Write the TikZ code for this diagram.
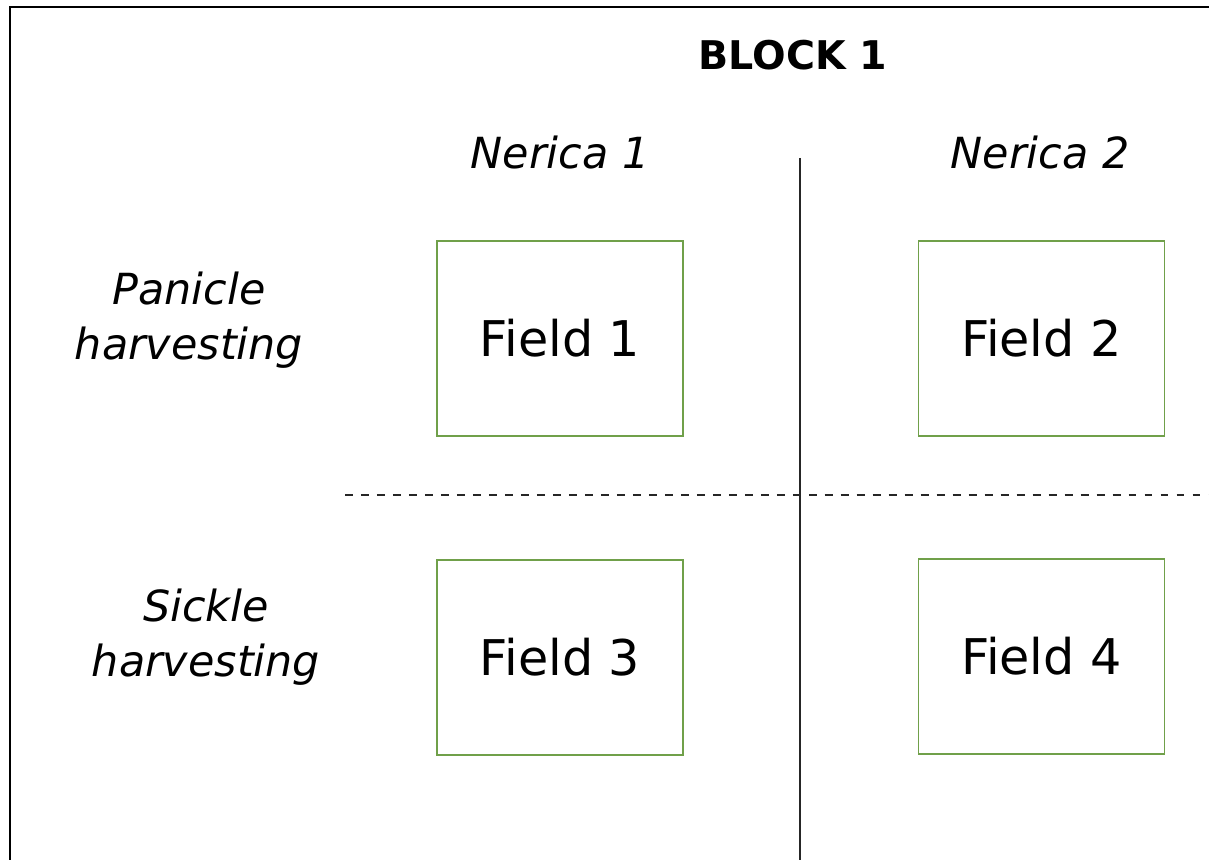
\documentclass[tikz,border=0pt]{standalone}
\usepackage{fontspec}
\setmainfont{DejaVu Sans}
\usetikzlibrary{positioning}
\definecolor{plotgreen}{RGB}{112,160,74}

\begin{document}
\begin{tikzpicture}[
  fieldbox/.style={draw=plotgreen, line width=1.1pt, rectangle, minimum width=4.92cm, minimum height=3.9cm, font=\fontsize{28}{33}\selectfont},
  variety/.style={font=\fontsize{24.4}{30}\selectfont\itshape},
  method/.style={align=center, font=\fontsize{24.4}{31.2}\selectfont\itshape},
  divider/.style={line width=1.3pt, black!85}
]
\useasboundingbox (0,0) rectangle (24.18,17.2);

% open frame, top and left side only
\draw[line width=1.6pt] (0.2,0) -- (0.2,17.06) -- (24.18,17.06);

\node[font=\fontsize{22.5}{27}\selectfont\bfseries] (block) at (15.86,16.1) {BLOCK 1};

\node[variety] (ner1) at (11.2,14.14) {Nerica 1};
\node[variety] (ner2) at (20.8,14.14) {Nerica 2};

\node[method] (panicle) at (3.78,10.8) {Panicle\\harvesting};
\node[method] (sickle) at (4.12,4.46) {Sickle\\harvesting};

\node[fieldbox] (f1) at (11.2,10.43) {Field 1};
\node[fieldbox] (f2) at (20.83,10.43) {Field 2};
\node[fieldbox] (f3) at (11.2,4.05) {Field 3};
\node[fieldbox] (f4) at (20.83,4.07) {Field 4};

% split between the two varieties and the two methods
\coordinate (vtop) at (16.0,14.04);
\coordinate (vbot) at (16.0,0);
\coordinate (hleft) at (6.9,7.3);
\coordinate (hright) at (24.18,7.3);
\draw[divider] (vtop) -- (vbot);
\draw[line width=1.2pt, black!85, dash pattern=on 4.5pt off 4.6pt] (hleft) -- (hright);
\end{tikzpicture}
\end{document}
